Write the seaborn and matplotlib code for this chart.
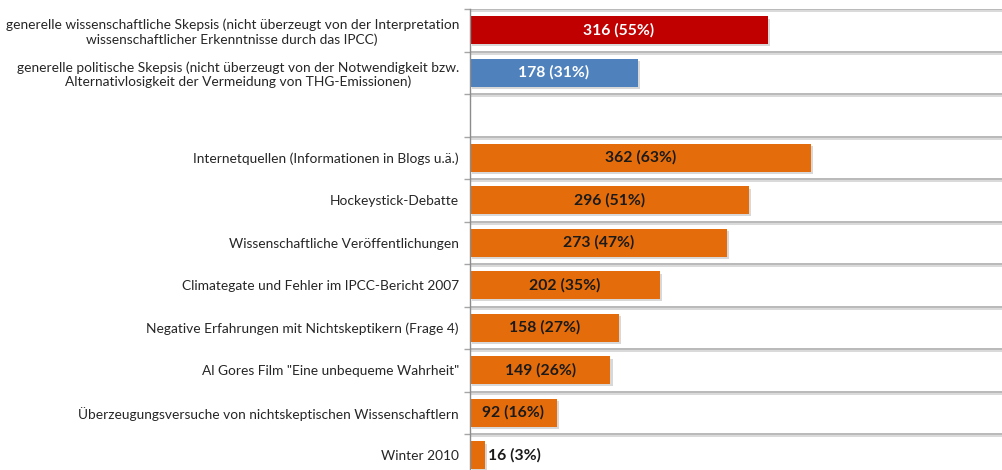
import numpy as np
import pandas as pd
import seaborn as sns
import matplotlib.pyplot as plt
import matplotlib.patheffects as pe

# Chart data, top to bottom
categories = [
    "generelle wissenschaftliche Skepsis (nicht überzeugt von der Interpretation\nwissenschaftlicher Erkenntnisse durch das IPCC)",
    "generelle politische Skepsis (nicht überzeugt von der Notwendigkeit bzw.\nAlternativlosigkeit der Vermeidung von THG-Emissionen)",
    "Internetquellen (Informationen in Blogs u.ä.)",
    "Hockeystick-Debatte",
    "Wissenschaftliche Veröffentlichungen",
    "Climategate und Fehler im IPCC-Bericht 2007",
    "Negative Erfahrungen mit Nichtskeptikern (Frage 4)",
    "Al Gores Film \"Eine unbequeme Wahrheit\"",
    "Überzeugungsversuche von nichtskeptischen Wissenschaftlern",
    "Winter 2010",
]
counts = [316, 178, 362, 296, 273, 202, 158, 149, 92, 16]
percents = [55, 31, 63, 51, 47, 35, 27, 26, 16, 3]
groups = ["wissenschaftlich", "politisch"] + ["gruende"] * 8

palette = {"wissenschaftlich": "#C00000", "politisch": "#4F81BD", "gruende": "#E46C0A"}
label_colors = {"wissenschaftlich": "white", "politisch": "white", "gruende": "#1a1a1a"}

# empty slot between the two blocks
order = categories[:2] + [" "] + categories[2:]

df = pd.DataFrame({"kategorie": categories, "anzahl": counts,
                   "prozent": percents, "gruppe": groups})

sns.set_style("white")
plt.rcParams['font.family'] = ['Lato', 'DejaVu Sans']

fig = plt.figure(figsize=(10.02, 4.70), dpi=100)
ax = fig.add_axes([470 / 1002, 0, 532 / 1002, (470 - 9) / 470])

sns.barplot(data=df, x="anzahl", y="kategorie", hue="gruppe", order=order,
            palette=palette, dodge=False, legend=False, width=0.65,
            orient="h", ax=ax, saturation=1)

shadow = [pe.SimplePatchShadow(offset=(1.6, -1.6), shadow_rgbFace="#7f7f7f", alpha=0.3),
          pe.Normal()]
for p in ax.patches:
    p.set_path_effects(shadow)
    p.set_edgecolor("none")

# value labels
for _, row in df.iterrows():
    y = order.index(row["kategorie"])
    txt = f"{row['anzahl']} ({row['prozent']}%)"
    if row["anzahl"] < 40:
        ax.text(row["anzahl"] + 3, y, txt, ha="left", va="center",
                fontsize=11.3, fontweight="bold", color="#1a1a1a")
    else:
        ax.text(row["anzahl"] / 2, y, txt, ha="center", va="center",
                fontsize=11.3, fontweight="bold", color=label_colors[row["gruppe"]])

ax.set_xlabel("")
ax.set_ylabel("")
ax.set_xticks([])

# horizontal grid between categories
ax.set_yticks(np.arange(-0.5, len(order)), minor=True)
ax.grid(True, which="minor", axis="y", color="#a6a6a6", lw=1.1)
ax.grid(False, which="major")
for t in ax.yaxis.get_minor_ticks():
    t.gridline.set_path_effects([pe.SimpleLineShadow(offset=(0, -1.6), shadow_color="#cfcfcf", alpha=1),
                                 pe.Normal()])
ax.tick_params(axis="y", which="minor", length=4, width=1, color="#a6a6a6", direction="out", left=True)
ax.tick_params(axis="y", which="major", length=0, pad=8, labelsize=9.9, labelcolor="#262626")
for lbl in ax.get_yticklabels():
    lbl.set_multialignment("center")

# limits last, set_yticks would widen them
ax.set_xlim(0, 565)
ax.set_ylim(-0.5 + 461 / 42.5, -0.5)

for s in ["top", "right", "bottom"]:
    ax.spines[s].set_visible(False)
ax.spines["left"].set_color("#8c8c8c")
ax.spines["left"].set_linewidth(1)

fig.savefig("out.png", dpi=100)
